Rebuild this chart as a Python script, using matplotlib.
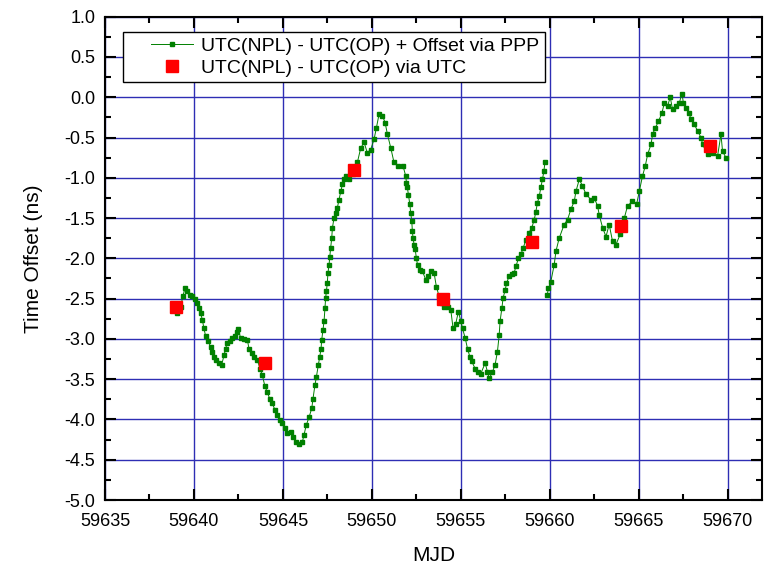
import numpy as np
import matplotlib
matplotlib.use('Agg')
import matplotlib.pyplot as plt
from matplotlib.ticker import MultipleLocator, FormatStrFormatter
from matplotlib.lines import Line2D
from matplotlib.legend_handler import HandlerLine2D

plt.rcParams['font.family'] = ['Liberation Sans', 'DejaVu Sans']
plt.rcParams['axes.unicode_minus'] = False

# PPP comparison, first block (MJD, ns)
ppp1_mjd = [59639.06, 59639.25, 59639.38, 59639.49, 59639.62, 59639.76, 59639.90, 59640.06, 59640.18, 59640.28,
            59640.37, 59640.47, 59640.56, 59640.66, 59640.80, 59640.94, 59641.03, 59641.12, 59641.25, 59641.40,
            59641.56, 59641.69, 59641.78, 59641.87, 59642.01, 59642.15, 59642.30, 59642.43, 59642.49, 59642.62,
            59642.81, 59643.00, 59643.09, 59643.24, 59643.37, 59643.56, 59643.71, 59643.84, 59643.99, 59644.12,
            59644.25, 59644.40, 59644.55, 59644.68, 59644.82, 59644.96, 59645.12, 59645.25, 59645.44, 59645.57,
            59645.72, 59645.90, 59646.09, 59646.18, 59646.31, 59646.47, 59646.62, 59646.69, 59646.80, 59646.88,
            59646.99, 59647.07, 59647.14, 59647.18, 59647.25, 59647.31, 59647.36, 59647.40, 59647.44, 59647.49,
            59647.53, 59647.59, 59647.63, 59647.68, 59647.74, 59647.78, 59647.87, 59647.97, 59648.06, 59648.15,
            59648.25, 59648.34, 59648.43, 59648.53, 59648.71, 59648.94, 59649.18, 59649.37, 59649.56, 59649.74,
            59649.93, 59650.12, 59650.25, 59650.40, 59650.59, 59650.74, 59650.87, 59651.06, 59651.24, 59651.49,
            59651.75, 59651.90, 59651.94, 59651.99, 59652.05, 59652.13, 59652.18, 59652.24, 59652.27, 59652.31,
            59652.37, 59652.43, 59652.50, 59652.56, 59652.69, 59652.84, 59653.03, 59653.17, 59653.31, 59653.49,
            59653.62, 59653.77, 59653.93, 59654.06, 59654.30, 59654.43, 59654.56, 59654.71, 59654.86, 59654.99,
            59655.09, 59655.24, 59655.37, 59655.50, 59655.61, 59655.80, 59655.98, 59656.12, 59656.36, 59656.49,
            59656.59, 59656.77, 59656.92, 59657.05, 59657.15, 59657.20, 59657.30, 59657.37, 59657.49, 59657.56,
            59657.71, 59657.86, 59657.99, 59658.09, 59658.23, 59658.37, 59658.50, 59658.65, 59658.80, 59658.98,
            59659.12, 59659.21, 59659.30, 59659.40, 59659.49, 59659.58, 59659.66, 59659.72]
ppp1_ns = [-2.68, -2.60, -2.47, -2.37, -2.41, -2.45, -2.47, -2.51, -2.56, -2.62,
           -2.68, -2.76, -2.87, -2.97, -3.03, -3.10, -3.16, -3.22, -3.26, -3.30,
           -3.32, -3.20, -3.12, -3.05, -3.03, -2.99, -2.97, -2.91, -2.875, -2.99,
           -3.00, -3.01, -3.12, -3.18, -3.22, -3.26, -3.37, -3.45, -3.59, -3.66,
           -3.74, -3.80, -3.88, -3.95, -4.01, -4.05, -4.11, -4.17, -4.15, -4.22,
           -4.28, -4.30, -4.28, -4.195, -4.07, -3.97, -3.86, -3.74, -3.57, -3.47,
           -3.32, -3.22, -3.12, -3.01, -2.89, -2.78, -2.62, -2.49, -2.41, -2.31,
           -2.18, -2.08, -1.98, -1.87, -1.75, -1.62, -1.50, -1.44, -1.37, -1.27,
           -1.17, -1.08, -1.02, -0.98, -1.02, -0.95, -0.81, -0.63, -0.56, -0.69,
           -0.65, -0.52, -0.38, -0.21, -0.23, -0.315, -0.46, -0.63, -0.81, -0.855,
           -0.855, -0.98, -1.06, -1.12, -1.21, -1.33, -1.44, -1.54, -1.66, -1.75,
           -1.83, -1.89, -2.00, -2.08, -2.14, -2.16, -2.27, -2.22, -2.16, -2.18,
           -2.35, -2.47, -2.55, -2.60, -2.61, -2.64, -2.87, -2.81, -2.66, -2.78,
           -2.87, -2.99, -3.12, -3.22, -3.28, -3.37, -3.41, -3.43, -3.30, -3.41,
           -3.49, -3.41, -3.32, -3.16, -2.95, -2.78, -2.62, -2.49, -2.39, -2.31,
           -2.22, -2.20, -2.18, -2.10, -2.00, -1.95, -1.87, -1.77, -1.69, -1.62,
           -1.52, -1.42, -1.31, -1.23, -1.12, -1.02, -0.92, -0.81]

# PPP comparison, second block
ppp2_mjd = [59659.85, 59659.92, 59660.05, 59660.24, 59660.34, 59660.52, 59660.80, 59660.99, 59661.18, 59661.37,
            59661.46, 59661.65, 59661.83, 59662.02, 59662.30, 59662.49, 59662.68, 59662.77, 59662.96, 59663.15,
            59663.33, 59663.52, 59663.71, 59663.95, 59664.18, 59664.36, 59664.64, 59664.87, 59665.02, 59665.20,
            59665.36, 59665.49, 59665.68, 59665.77, 59665.92, 59666.10, 59666.30, 59666.43, 59666.61, 59666.76,
            59666.89, 59667.08, 59667.27, 59667.42, 59667.50, 59667.65, 59667.79, 59667.93, 59668.11, 59668.30,
            59668.49, 59668.58, 59668.86, 59669.14, 59669.42, 59669.61, 59669.70, 59669.89]
ppp2_ns = [-2.45, -2.37, -2.29, -2.08, -1.91, -1.75, -1.58, -1.52, -1.39, -1.29,
           -1.17, -1.02, -1.10, -1.20, -1.27, -1.25, -1.35, -1.46, -1.62, -1.73,
           -1.58, -1.79, -1.83, -1.70, -1.50, -1.35, -1.29, -1.33, -1.17, -0.98,
           -0.85, -0.71, -0.585, -0.46, -0.38, -0.30, -0.19, -0.07, -0.11, 0.00,
           -0.15, -0.11, -0.07, 0.045, -0.07, -0.13, -0.19, -0.27, -0.335, -0.42,
           -0.50, -0.585, -0.71, -0.69, -0.73, -0.46, -0.67, -0.75]

# UTC comparison (daily)
utc_mjd = [59639, 59644, 59649, 59654, 59659, 59664, 59669]
utc_ns = [-2.6, -3.3, -0.9, -2.5, -1.8, -1.6, -0.6]

fig = plt.figure(figsize=(7.64, 5.68), dpi=100)
ax = fig.add_axes([0.1374, 0.1197, 0.8596, 0.8509])

green = '#008000'
ax.plot(ppp1_mjd, ppp1_ns, '-', color=green, lw=0.7, marker='s', ms=3.5,
        mfc=green, mec=green, label='UTC(NPL) - UTC(OP) + Offset via PPP')
ax.plot(ppp2_mjd, ppp2_ns, '-', color=green, lw=0.7, marker='s', ms=3.5,
        mfc=green, mec=green)
ax.plot(utc_mjd, utc_ns, 's', color='#ff0000', ms=9, mec='#ff0000',
        label='UTC(NPL) - UTC(OP) via UTC')

ax.set_xlim(59635, 59671.9)
ax.set_ylim(-5.0, 1.0)
ax.xaxis.set_major_locator(MultipleLocator(5))
ax.xaxis.set_minor_locator(MultipleLocator(2.5))
ax.yaxis.set_major_locator(MultipleLocator(0.5))
ax.yaxis.set_minor_locator(MultipleLocator(0.25))
ax.xaxis.set_major_formatter(FormatStrFormatter('%d'))
ax.yaxis.set_major_formatter(FormatStrFormatter('%.1f'))

ax.set_axisbelow(True)
ax.grid(True, which='major', color='#2e2eb4', lw=1.0)
for s in ax.spines.values():
    s.set_linewidth(1.5)
ax.tick_params(which='both', direction='in', top=True, right=True, width=1.5,
               labelsize=13)
ax.tick_params(which='major', length=8)
ax.tick_params(which='minor', length=4)
ax.tick_params(axis='y', pad=7)
ax.tick_params(axis='x', pad=9)

ax.set_xlabel('MJD', fontsize=15)
ax.set_ylabel('Time Offset (ns)', fontsize=15)
ax.xaxis.set_label_coords(0.5, -0.095)
ax.yaxis.set_label_coords(-0.094, 0.5)

leg = ax.legend(loc='upper left', bbox_to_anchor=(0.0279, 0.969), borderaxespad=0,
                fontsize=14, fancybox=False, framealpha=1, edgecolor='black',
                borderpad=0.3, handlelength=3.3, handletextpad=0.4, labelspacing=0.2,
                numpoints=1, handler_map={Line2D: HandlerLine2D(xpad=1.1)})
leg.get_frame().set_linewidth(1.0)

plt.savefig('out.png', dpi=100)
